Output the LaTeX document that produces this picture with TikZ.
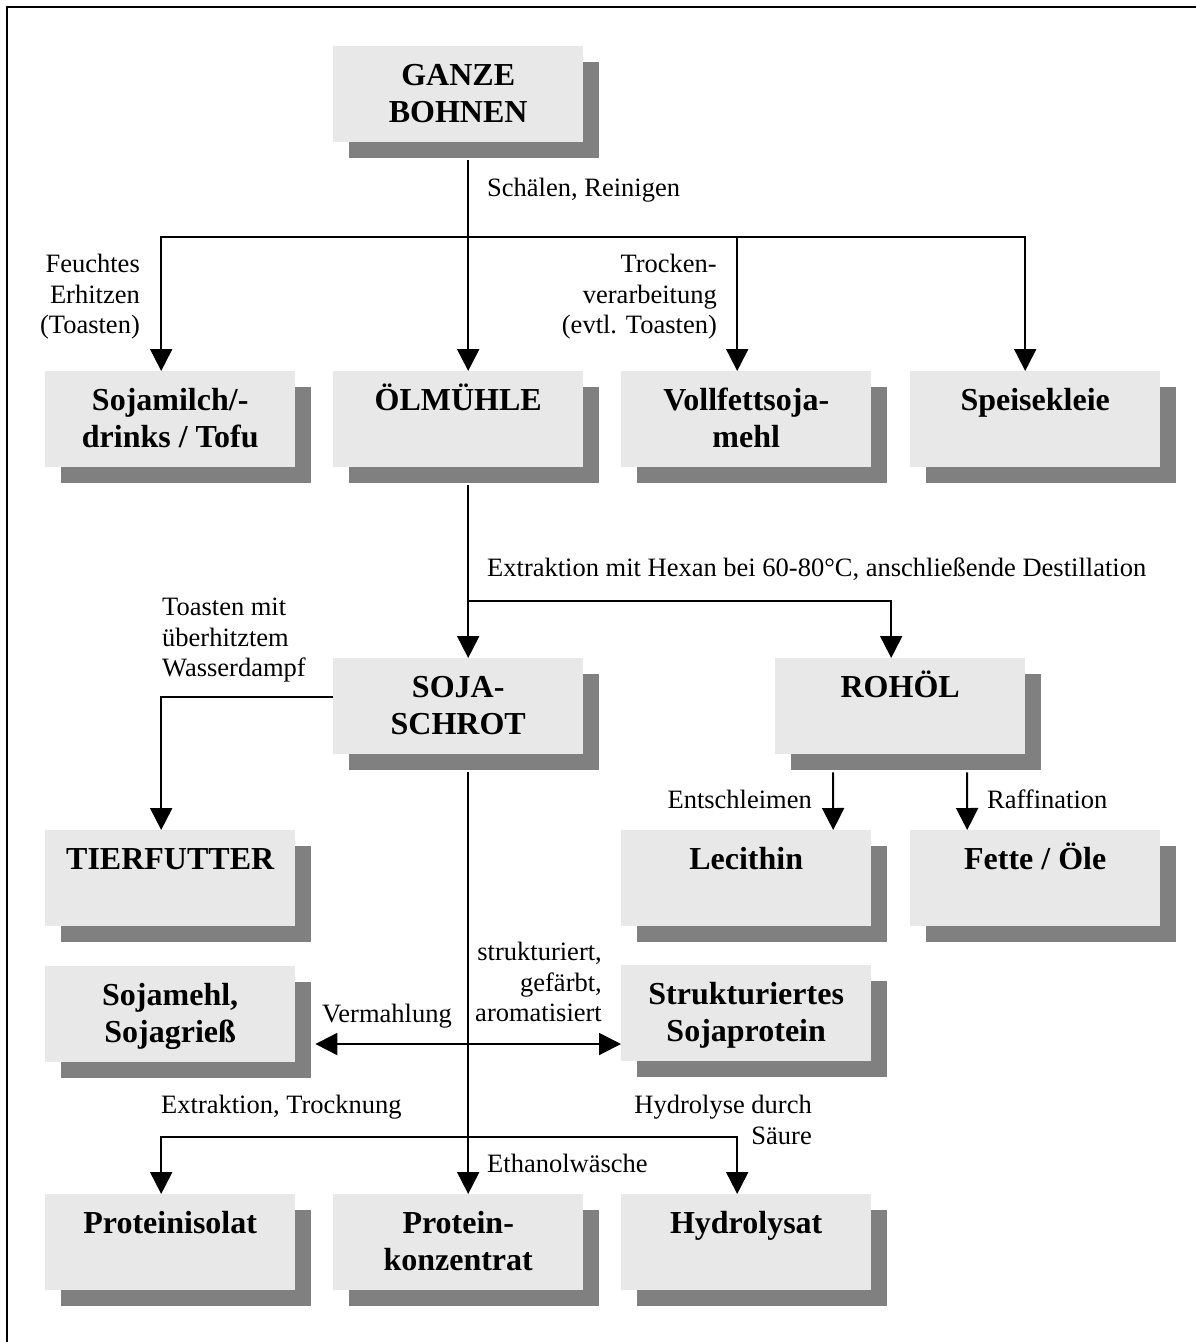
\documentclass[tikz,border=0pt]{standalone}
\usepackage{fontspec}
\setmainfont{Liberation Serif}
\usetikzlibrary{arrows.meta,shadows}
\definecolor{boxgrau}{HTML}{E8E8E8}
\definecolor{schatten}{HTML}{808080}
\newcommand{\kasttext}[1]{\parbox[c][96pt][t]{250pt}{\centering\rule{0pt}{39pt}#1}}

\begin{document}
\begin{tikzpicture}[x=1pt,y=-1pt,
        kasten/.style={anchor=north west,fill=boxgrau,inner sep=0pt,minimum width=250pt,minimum height=96pt,
            drop shadow={shadow xshift=16pt,shadow yshift=-16pt,fill=schatten,opacity=1},
            font=\fontsize{32}{37}\selectfont\bfseries},
        notiz/.style={inner sep=0pt,font=\fontsize{26.5}{30.5}\selectfont},
        pfeil/.style={line width=2pt,-{Triangle[length=22pt,width=22pt]}},
        doppelpfeil/.style={line width=2pt,{Triangle[length=22pt,width=22pt]}-{Triangle[length=22pt,width=22pt]}}]
        \useasboundingbox (0,0) rectangle (1196,1342);
        %边框;
        \draw [line width=2pt] (7,1342) -- (7,7) -- (1196,7);
        %方框
        \node [kasten] (bohnen) at (333,46) {\kasttext{GANZE\\BOHNEN}};
        \node [kasten] (milch) at (45,371) {\kasttext{Sojamilch/-\\drinks / Tofu}};
        \node [kasten] (muehle) at (333,371) {\kasttext{ÖLMÜHLE}};
        \node [kasten] (vollfett) at (621,371) {\kasttext{Vollfettsoja-\\mehl}};
        \node [kasten] (kleie) at (910,371) {\kasttext{Speisekleie}};
        \node [kasten] (schrot) at (333,658) {\kasttext{SOJA-\\SCHROT}};
        \node [kasten] (rohoel) at (775,658) {\kasttext{ROHÖL}};
        \node [kasten] (futter) at (45,830) {\kasttext{TIERFUTTER}};
        \node [kasten] (lecithin) at (621,830) {\kasttext{Lecithin}};
        \node [kasten] (fette) at (910,830) {\kasttext{Fette / Öle}};
        \node [kasten] (sojamehl) at (45,966) {\kasttext{Sojamehl,\\Sojagrieß}};
        \node [kasten] (textur) at (621,965) {\kasttext{Strukturiertes\\Sojaprotein}};
        \node [kasten] (isolat) at (45,1194) {\kasttext{Proteinisolat}};
        \node [kasten] (konzentrat) at (333,1194) {\kasttext{Protein-\\konzentrat}};
        \node [kasten] (hydrolysat) at (621,1194) {\kasttext{Hydrolysat}};
        %箭头
        \coordinate (gabel1) at (468,237);
        \coordinate (gabel2) at (468,601);
        \coordinate (gabel3) at (468,1137);
        \draw [pfeil] ([xshift=10pt,yshift=-18pt]bohnen.south) -- ([xshift=10pt]muehle.north);
        \draw [pfeil] (gabel1) -| ([xshift=-9pt]milch.north);
        \draw [pfeil] (gabel1) -| ([xshift=-9pt]vollfett.north);
        \draw [pfeil] (gabel1) -| ([xshift=-10pt]kleie.north);
        \draw [pfeil] ([xshift=10pt,yshift=-18pt]muehle.south) -- ([xshift=10pt]schrot.north);
        \draw [pfeil] (gabel2) -| ([xshift=-9pt]rohoel.north);
        \draw [pfeil] ([yshift=-39pt]schrot.north west) -| ([xshift=-9pt]futter.north);
        \draw [pfeil] ([xshift=58pt,yshift=-18pt]rohoel.south west) -- ([xshift=87pt]lecithin.north);
        \draw [pfeil] ([xshift=192pt,yshift=-18pt]rohoel.south west) -- ([xshift=-68pt]fette.north);
        \draw [pfeil] ([xshift=10pt,yshift=-18pt]schrot.south) -- ([xshift=10pt]konzentrat.north);
        \draw [pfeil] (gabel3) -| ([xshift=-9pt]isolat.north);
        \draw [pfeil] (gabel3) -| ([xshift=-9pt]hydrolysat.north);
        \draw [doppelpfeil] ([xshift=20pt,yshift=-78pt]sojamehl.north east) -- ([yshift=-79pt]textur.north west);
        %说明
        \node [notiz,anchor=base west] (schaelen) at (487,196) {Schälen, Reinigen};
        \node [notiz,anchor=north east,align=right] (feucht) at (140,254) {Feuchtes\\Erhitzen\\(Toasten)};
        \node [notiz,anchor=north east,align=right] (trocken) at (717,254) {Trocken-\\verarbeitung\\(evtl. Toasten)};
        \node [notiz,anchor=base west] (hexan) at (487,576) {Extraktion mit Hexan bei 60-80°C, anschließende Destillation};
        \node [notiz,anchor=north west,align=left] (toasten) at (162,598) {Toasten mit\\überhitztem\\Wasserdampf};
        \node [notiz,anchor=base east] (entschl) at (812,808) {Entschleimen};
        \node [notiz,anchor=base west] (raffin) at (987,808) {Raffination};
        \node [notiz,anchor=north east,align=right] (struktur) at (602,942) {strukturiert,\\gefärbt,\\aromatisiert};
        \node [notiz,anchor=base west] (vermahl) at (322,1022) {Vermahlung};
        \node [notiz,anchor=base west] (trockn) at (161,1113) {Extraktion, Trocknung};
        \node [notiz,anchor=north east,align=right] (hydro) at (812,1095) {Hydrolyse durch\\Säure};
        \node [notiz,anchor=base west] (ethanol) at (487,1172) {Ethanolwäsche};
    \end{tikzpicture}
\end{document}
